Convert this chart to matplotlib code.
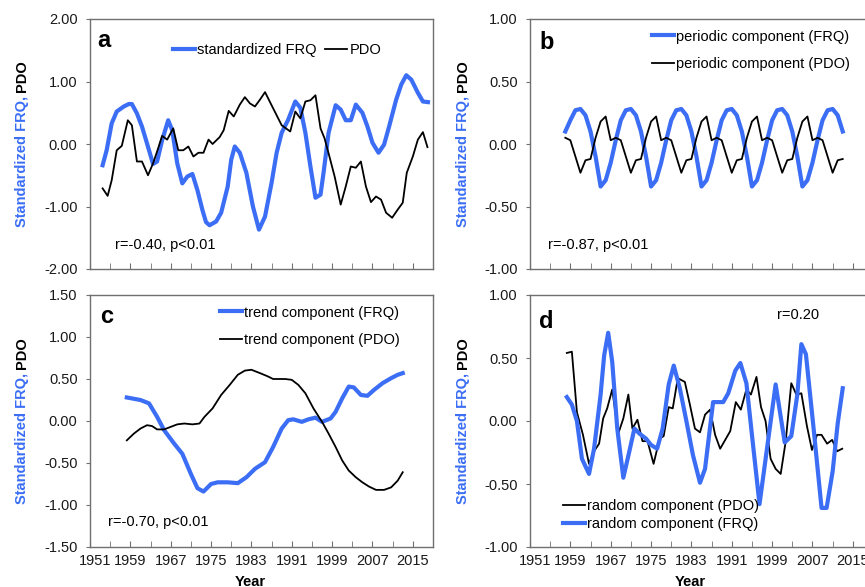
import matplotlib
matplotlib.use("Agg")
import matplotlib.pyplot as plt
from matplotlib.ticker import FixedLocator, FuncFormatter
import matplotlib.transforms as mtransforms

plt.rcParams['font.family'] = ['Liberation Sans', 'DejaVu Sans']
plt.rcParams['axes.unicode_minus'] = False

BLUE = '#3b6ef5'
SPINE = '#707070'

# ---------------- data ----------------
# panel a: standardized FRQ and PDO
a_frq_years = [1953.5, 1954.3, 1955.3, 1956.3, 1957.7,
               1958.7, 1959.3, 1960.3, 1961.3, 1962.3,
               1963.5, 1964.3, 1965.3, 1966.5, 1967.3,
               1968.3, 1969.3, 1970.3, 1971.3, 1972.3,
               1973.3, 1974.0, 1974.7, 1976.0, 1977.0,
               1978.3, 1979.0, 1979.7, 1980.7, 1982.0,
               1983.3, 1984.5, 1985.7, 1987.0, 1988.0,
               1989.0, 1990.3, 1991.7, 1992.7, 1993.7,
               1994.7, 1995.7, 1996.7, 1997.3, 1998.3,
               1999.7, 2000.7, 2001.7, 2002.7, 2003.7,
               2005.0, 2006.0, 2007.0, 2008.2, 2009.3,
               2010.3, 2011.7, 2012.7, 2013.7, 2014.7,
               2016.0, 2017.0, 2018.0]
a_frq = [-0.34, -0.10, 0.33, 0.52, 0.60,
         0.64, 0.64, 0.49, 0.28, 0.01,
         -0.32, -0.28, 0.06, 0.38, 0.22,
         -0.31, -0.63, -0.52, -0.48, -0.74,
         -1.06, -1.25, -1.30, -1.24, -1.10,
         -0.68, -0.25, -0.04, -0.14, -0.46,
         -1.00, -1.37, -1.16, -0.62, -0.14,
         0.18, 0.39, 0.68, 0.58, 0.18,
         -0.36, -0.86, -0.81, -0.46, 0.18,
         0.62, 0.55, 0.38, 0.38, 0.63,
         0.50, 0.28, 0.02, -0.14, -0.01,
         0.28, 0.71, 0.95, 1.10, 1.03,
         0.82, 0.68, 0.67]

a_pdo_years = [1953.5, 1954.5, 1955.3, 1956.3, 1957.3,
               1958.5, 1959.3, 1960.3, 1961.3, 1962.5,
               1963.5, 1964.3, 1965.3, 1966.3, 1967.5,
               1968.5, 1969.5, 1970.5, 1971.5, 1972.5,
               1973.5, 1974.5, 1975.3, 1976.7, 1977.5,
               1978.5, 1979.5, 1980.7, 1981.7, 1982.7,
               1983.7, 1984.7, 1985.7, 1987.0, 1988.0,
               1989.0, 1990.7, 1991.7, 1992.7, 1993.7,
               1994.7, 1995.7, 1996.7, 1997.5, 1998.3,
               1999.5, 2000.7, 2001.7, 2002.7, 2003.7,
               2004.7, 2005.7, 2006.7, 2007.7, 2008.7,
               2009.7, 2010.9, 2012.0, 2013.0, 2013.8,
               2015.0, 2016.0, 2017.0, 2017.9]
a_pdo = [-0.71, -0.83, -0.58, -0.10, -0.03,
         0.38, 0.30, -0.28, -0.28, -0.50,
         -0.31, -0.12, 0.13, 0.07, 0.25,
         -0.10, -0.10, -0.04, -0.20, -0.14,
         -0.14, 0.07, 0.00, 0.11, 0.22,
         0.53, 0.44, 0.63, 0.75, 0.65,
         0.60, 0.71, 0.83, 0.62, 0.46,
         0.30, 0.20, 0.52, 0.41, 0.68,
         0.70, 0.78, 0.25, 0.09, -0.15,
         -0.52, -0.97, -0.68, -0.36, -0.38,
         -0.28, -0.68, -0.93, -0.84, -0.89,
         -1.10, -1.18, -1.05, -0.94, -0.46,
         -0.20, 0.07, 0.19, -0.05]

# panel b: periodic components (annual, 1958-2013)
b_years = list(range(1958, 2014))
b_frq = [0.10, 0.19,
         0.27, 0.28, 0.23, 0.10, -0.10, -0.34, -0.29, -0.15, 0.03, 0.19,
         0.27, 0.28, 0.23, 0.10, -0.10, -0.34, -0.29, -0.15, 0.03, 0.19,
         0.27, 0.28, 0.23, 0.10, -0.10, -0.34, -0.29, -0.15, 0.03, 0.19,
         0.27, 0.28, 0.23, 0.10, -0.10, -0.34, -0.29, -0.15, 0.03, 0.19,
         0.27, 0.28, 0.23, 0.10, -0.10, -0.34, -0.29, -0.15, 0.03, 0.19,
         0.27, 0.28, 0.23, 0.10]
b_pdo = [0.05, 0.03,
         -0.10, -0.23, -0.13, -0.12, 0.05, 0.18, 0.22, 0.03, 0.05, 0.03,
         -0.10, -0.23, -0.13, -0.12, 0.05, 0.18, 0.22, 0.03, 0.05, 0.03,
         -0.10, -0.23, -0.13, -0.12, 0.05, 0.18, 0.22, 0.03, 0.05, 0.03,
         -0.10, -0.23, -0.13, -0.12, 0.05, 0.18, 0.22, 0.03, 0.05, 0.03,
         -0.10, -0.23, -0.13, -0.12, 0.05, 0.18, 0.22, 0.03, 0.05, 0.03,
         -0.10, -0.23, -0.13, -0.12]

# panel c: trend components
c_frq_years = [1958.3, 1961.0, 1962.7, 1964.3, 1965.7,
               1967.7, 1969.3, 1971.0, 1972.3, 1973.5,
               1975.0, 1976.3, 1978.3, 1980.3, 1982.0,
               1983.7, 1985.7, 1987.3, 1989.0, 1990.3,
               1991.3, 1993.0, 1994.3, 1995.7, 1997.0,
               1998.7, 1999.7, 2001.0, 2002.3, 2003.3,
               2004.7, 2006.0, 2007.3, 2009.0, 2010.7,
               2012.0, 2013.0]
c_frq = [0.28, 0.25, 0.21, 0.05, -0.11,
         -0.27, -0.39, -0.63, -0.80, -0.84,
         -0.75, -0.73, -0.73, -0.74, -0.67,
         -0.57, -0.49, -0.31, -0.09, 0.01,
         0.02, -0.01, 0.02, 0.04, -0.01,
         0.03, 0.11, 0.27, 0.41, 0.40,
         0.31, 0.30, 0.37, 0.45, 0.51,
         0.55, 0.57]
c_pdo_years = [1958.3, 1959.7, 1961.0, 1962.3, 1963.3,
               1964.3, 1965.7, 1967.0, 1968.3, 1969.7,
               1971.3, 1972.7, 1973.7, 1975.3, 1977.0,
               1978.7, 1980.3, 1981.7, 1983.0, 1984.7,
               1986.3, 1987.3, 1989.7, 1991.0, 1992.3,
               1993.7, 1995.3, 1997.0, 1998.3, 1999.7,
               2001.0, 2002.3, 2003.7, 2005.0, 2006.3,
               2007.7, 2009.3, 2010.7, 2012.0, 2013.0]
c_pdo = [-0.23, -0.15, -0.09, -0.05, -0.06,
         -0.10, -0.10, -0.07, -0.04, -0.03,
         -0.04, -0.03, 0.05, 0.15, 0.31,
         0.43, 0.55, 0.60, 0.61, 0.57,
         0.53, 0.50, 0.50, 0.49, 0.43,
         0.33, 0.15, -0.01, -0.15, -0.31,
         -0.47, -0.59, -0.67, -0.73, -0.78,
         -0.82, -0.82, -0.79, -0.71, -0.61]

# panel d: random components
d_frq_years = [1958.3, 1959.3, 1960.3, 1961.3, 1962.7,
               1963.7, 1965.0, 1965.7, 1966.5, 1967.3,
               1968.3, 1969.5, 1970.7, 1971.7, 1972.7,
               1974.0, 1975.0, 1976.2, 1977.3, 1978.5,
               1979.5, 1980.7, 1982.0, 1983.3, 1984.7,
               1985.7, 1987.3, 1989.3, 1990.3, 1991.7,
               1992.7, 1993.9, 1995.0, 1996.5, 1999.7,
               2001.5, 2002.8, 2004.0, 2004.8, 2005.7,
               2007.2, 2008.8, 2009.8, 2011.0, 2012.0,
               2013.0]
d_frq = [0.19, 0.13, 0.00, -0.30, -0.42,
         -0.22, 0.21, 0.52, 0.70, 0.47,
         -0.06, -0.45, -0.24, -0.06, -0.10,
         -0.14, -0.19, -0.22, -0.06, 0.29,
         0.44, 0.26, 0.00, -0.27, -0.49,
         -0.38, 0.15, 0.15, 0.22, 0.40,
         0.46, 0.30, -0.11, -0.66, 0.29,
         -0.17, -0.12, 0.21, 0.61, 0.53,
         -0.05, -0.69, -0.69, -0.40, -0.02,
         0.26]
d_pdo_years = [1958.3, 1959.3, 1960.3, 1961.5, 1962.7,
               1963.7, 1964.7, 1965.5, 1966.3, 1967.3,
               1968.5, 1969.5, 1970.5, 1971.3, 1972.3,
               1973.3, 1974.3, 1975.5, 1976.7, 1977.5,
               1978.5, 1979.3, 1980.3, 1981.7, 1982.7,
               1983.7, 1984.7, 1985.7, 1986.7, 1987.7,
               1988.7, 1989.7, 1990.7, 1991.8, 1992.8,
               1993.9, 1994.8, 1995.9, 1996.8, 1997.7,
               1998.7, 1999.7, 2000.7, 2001.7, 2002.8,
               2003.8, 2004.8, 2005.9, 2006.9, 2007.9,
               2008.8, 2009.9, 2010.9, 2011.9, 2012.9]
d_pdo = [0.54, 0.55, 0.07, -0.11, -0.34,
         -0.24, -0.18, 0.02, 0.10, 0.25,
         -0.10, 0.02, 0.21, -0.06, 0.01,
         -0.16, -0.16, -0.34, -0.14, -0.12,
         0.11, 0.10, 0.34, 0.31, 0.13,
         -0.06, -0.09, 0.05, 0.09, -0.11,
         -0.22, -0.15, -0.08, 0.15, 0.09,
         0.25, 0.21, 0.35, 0.11, 0.00,
         -0.30, -0.38, -0.42, -0.16, 0.30,
         0.21, 0.22, -0.04, -0.23, -0.11,
         -0.11, -0.18, -0.15, -0.24, -0.22]

x_major = list(range(1951, 2016, 8))
x_minor = list(range(1955, 2020, 8))

# ---------------- figure ----------------
W, H = 865, 587
fig = plt.figure(figsize=(W / 100, H / 100), dpi=100)


def px_axes(left, top, width, height):
    return fig.add_axes([left / W, (H - top - height) / H, width / W, height / H])


axa = px_axes(90, 19, 343, 250)
axb = px_axes(530, 19, 343, 250)
axc = px_axes(90, 295, 343, 252)
axd = px_axes(530, 295, 343, 252)

FS = 10.5


def style(ax, ylim, ystep, show_xlabels):
    ax.set_xlim(1951, 2019)
    ax.set_ylim(*ylim)
    n = int(round((ylim[1] - ylim[0]) / ystep))
    ax.set_yticks([ylim[0] + i * ystep for i in range(n + 1)])
    ax.yaxis.set_major_formatter(FuncFormatter(lambda v, p: f"{v:.2f}"))
    ax.xaxis.set_major_locator(FixedLocator(x_major))
    ax.xaxis.set_minor_locator(FixedLocator(x_minor))
    for s in ax.spines.values():
        s.set_color(SPINE)
        s.set_linewidth(1.0)
    ax.tick_params(axis='x', which='both', direction='in', length=4,
                   color=SPINE, labelsize=FS, pad=5, top=False)
    ax.tick_params(axis='y', direction='out', length=3, color=SPINE,
                   labelsize=FS, pad=6, right=False)
    ax.tick_params(axis='both', labelcolor='#1a1a1a')
    if not show_xlabels:
        ax.tick_params(axis='x', labelbottom=False)
    else:
        ax.set_xlabel('Year', fontsize=FS, fontweight='bold')
        ax.xaxis.set_label_coords(0.466, -0.138)
        ax.xaxis.label.set_va('center')
        # first label nudged right as in the original
        lbl = ax.get_xticklabels()[0]
        offset = mtransforms.ScaledTranslation(5 / 100, 0, fig.dpi_scale_trans)
        lbl.set_transform(lbl.get_transform() + offset)


style(axa, (-2, 2), 1.0, False)
style(axb, (-1, 1), 0.5, False)
style(axc, (-1.5, 1.5), 0.5, True)
style(axd, (-1, 1), 0.5, True)

LW_B = 3.0
LW_K = 1.3

axa.plot(a_frq_years, a_frq, color=BLUE, lw=LW_B, label='standardized FRQ', solid_joinstyle='round')
axa.plot(a_pdo_years, a_pdo, color='black', lw=LW_K, label='PDO')
axb.plot(b_years, b_frq, color=BLUE, lw=LW_B, label='periodic component (FRQ)', solid_joinstyle='round')
axb.plot(b_years, b_pdo, color='black', lw=LW_K, label='periodic component (PDO)')
axc.plot(c_frq_years, c_frq, color=BLUE, lw=LW_B, label='trend component (FRQ)', solid_joinstyle='round')
axc.plot(c_pdo_years, c_pdo, color='black', lw=LW_K, label='trend component (PDO)')
ld1, = axd.plot(d_pdo_years, d_pdo, color='black', lw=LW_K, label='random component (PDO)')
ld2, = axd.plot(d_frq_years, d_frq, color=BLUE, lw=LW_B, label='random component (FRQ)', solid_joinstyle='round')

leg_kw = dict(frameon=False, fontsize=FS, handlelength=1.5, handletextpad=0.15,
              borderpad=0, borderaxespad=0, loc='upper left')
axa.legend(ncol=2, columnspacing=0.6, bbox_to_anchor=(0.242, 0.905), **leg_kw)
axb.legend(labelspacing=0.95, bbox_to_anchor=(0.356, 0.958), **leg_kw)
axc.legend(labelspacing=0.95, bbox_to_anchor=(0.379, 0.958), **leg_kw)
axd.legend(handles=[ld1, ld2], labelspacing=0.3, bbox_to_anchor=(0.096, 0.19), **leg_kw)

# annotations
axa.text(0.073, 0.096, 'r=-0.40, p<0.01', transform=axa.transAxes, fontsize=FS, va='center', ha='left')
axb.text(0.052, 0.096, 'r=-0.87, p<0.01', transform=axb.transAxes, fontsize=FS, va='center', ha='left')
axc.text(0.052, 0.099, 'r=-0.70, p<0.01', transform=axc.transAxes, fontsize=FS, va='center', ha='left')
axd.text(0.72, 0.921, 'r=0.20', transform=axd.transAxes, fontsize=FS, va='center', ha='left')

for ax, lab, xy in [(axa, 'a', (0.02, 0.889)), (axb, 'b', (0.029, 0.88)),
                    (axc, 'c', (0.029, 0.889)), (axd, 'd', (0.025, 0.869))]:
    ax.text(xy[0], xy[1], lab, transform=ax.transAxes, fontsize=17,
            fontweight='bold', va='baseline', ha='left')

# two-colour rotated y labels
renderer = fig.canvas.get_renderer()


def two_color_ylabel(ax, x_px):
    bbox = ax.get_position()
    cy = (bbox.y0 + bbox.y1) / 2 * H
    t1 = fig.text(x_px / W, 0, 'Standardized FRQ,', rotation=90, color=BLUE,
                  fontsize=FS, fontweight='bold', ha='center', va='bottom')
    t2 = fig.text(x_px / W, 0, 'PDO', rotation=90, color='black',
                  fontsize=FS, fontweight='bold', ha='center', va='bottom')
    h1 = t1.get_window_extent(renderer).height
    h2 = t2.get_window_extent(renderer).height
    gap = 4
    y0 = cy - (h1 + gap + h2) / 2
    t1.set_position((x_px / W, y0 / H))
    t2.set_position((x_px / W, (y0 + h1 + gap) / H))


two_color_ylabel(axa, 22)
two_color_ylabel(axb, 463)
two_color_ylabel(axc, 22)
two_color_ylabel(axd, 463)

fig.savefig('out.png', dpi=100)
